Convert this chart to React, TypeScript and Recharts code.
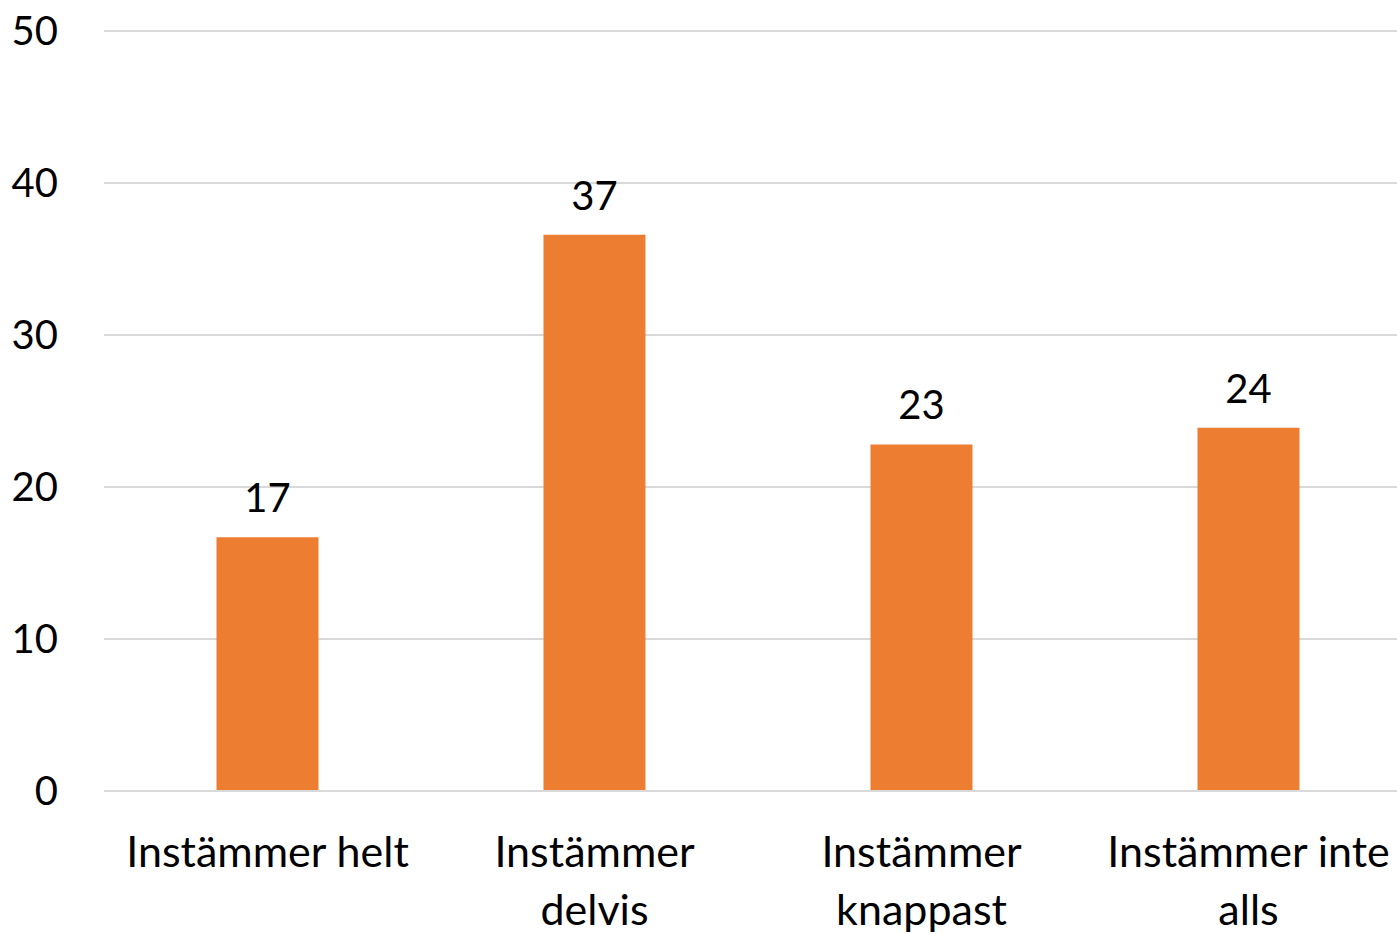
import React from "react";
import { Bar, BarChart, CartesianGrid, LabelList, XAxis, YAxis } from "recharts";

const categories = ["Instämmer helt", "Instämmer delvis", "Instämmer knappast", "Instämmer inte alls"];
const tickLines = [["Instämmer helt"], ["Instämmer", "delvis"], ["Instämmer", "knappast"], ["Instämmer inte", "alls"]];
const values = [16.7, 36.6, 22.8, 23.9];
const yTicks = [0, 10, 20, 30, 40, 50];

const data = categories.map((name, i) => ({ name, value: values[i] }));

const FONT = "Lato, 'Open Sans', sans-serif";

function CategoryTick(props: any) {
  const { x, y, index } = props;
  const lines = tickLines[index] || [];
  return (
    <g transform={`translate(${x},${y})`}>
      {lines.map((line, i) => (
        <text key={i} x={0} y={0} dy={68 + i * 58} textAnchor="middle" fill="#000" fontSize={43} fontFamily={FONT}>
          {line}
        </text>
      ))}
    </g>
  );
}

export default function App() {
  return (
    <div style={{ position: "fixed", left: 0, top: 0, width: 1397, height: 934, overflow: "hidden", background: "#fff" }}>
      <BarChart
        width={1412}
        height={934}
        data={data}
        margin={{ top: 31, right: 0, left: 0, bottom: 0 }}
        barCategoryGap="34.4%"
      >
        <CartesianGrid vertical={false} stroke="#d9d9d9" strokeWidth={2} />
        <XAxis
          dataKey="name"
          height={143}
          tickLine={false}
          axisLine={{ stroke: "#d9d9d9", strokeWidth: 2 }}
          tick={<CategoryTick />}
          interval={0}
        />
        <YAxis
          width={104}
          domain={[0, 50]}
          ticks={yTicks}
          tickLine={false}
          axisLine={false}
          tickMargin={40}
          tick={{ fontSize: 40, fill: "#000", fontFamily: FONT }}
        />
        <Bar dataKey="value" fill="#ED7D31" isAnimationActive={false}>
          <LabelList
            dataKey="value"
            position="top"
            offset={25}
            formatter={(v: any) => Math.round(Number(v))}
            style={{ fontSize: 40, fill: "#000", fontFamily: FONT }}
          />
        </Bar>
      </BarChart>
    </div>
  );
}
